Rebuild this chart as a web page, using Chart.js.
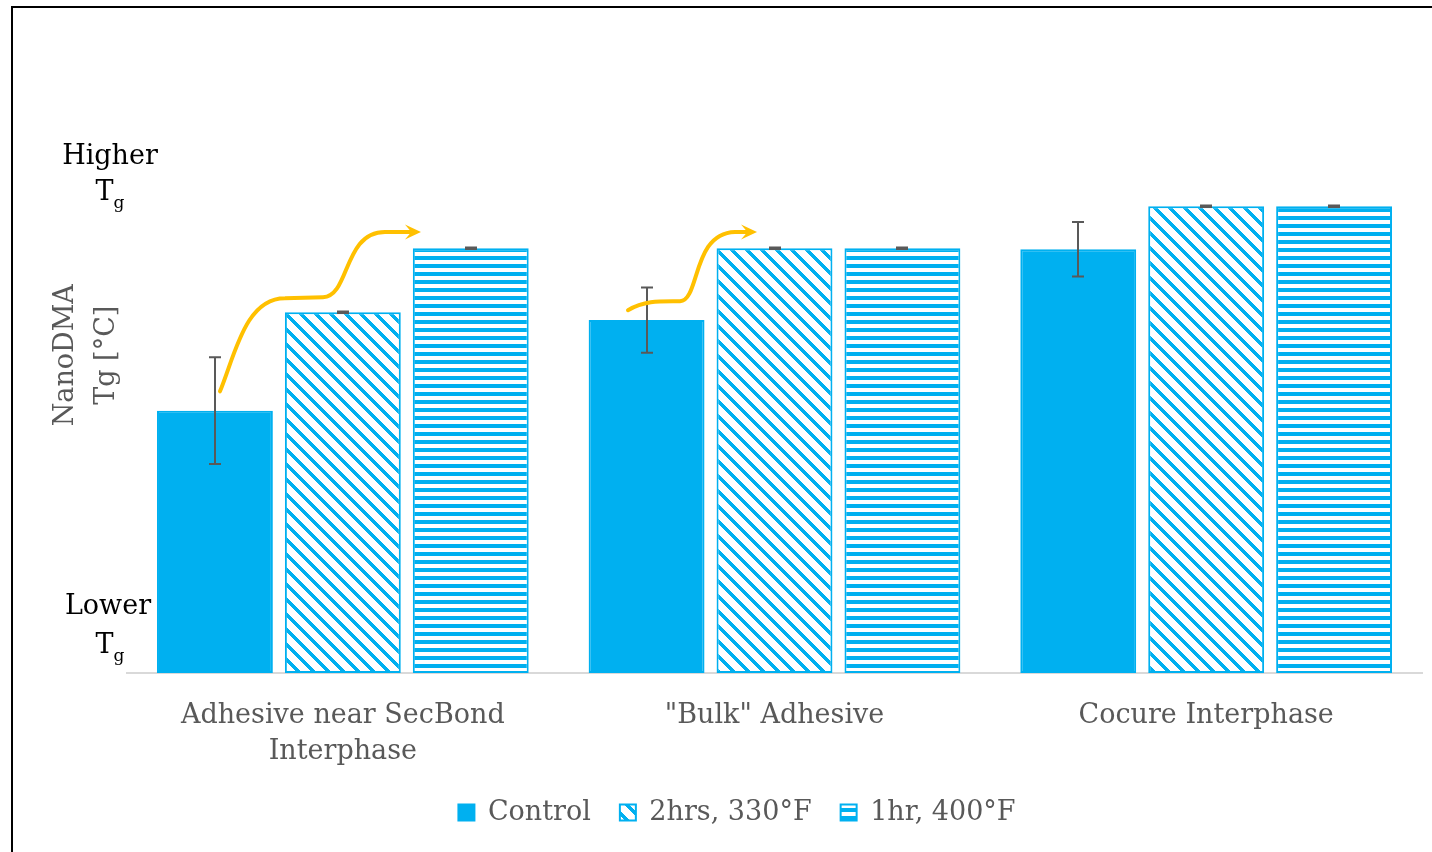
<!DOCTYPE html>
<html>
<head>
<meta charset="utf-8">
<title>NanoDMA Tg</title>
<script src="https://cdn.jsdelivr.net/npm/chart.js@4.4.0/dist/chart.umd.min.js"></script>
<style>
  html, body { margin: 0; padding: 0; background: #ffffff; }
  #wrap { position: relative; width: 1432px; height: 852px; }
</style>
</head>
<body>
<div id="wrap"><canvas id="c" width="1432" height="852"></canvas></div>
<script>
// ---- data ----
const categories = [["Adhesive near SecBond", "Interphase"], '"Bulk" Adhesive', "Cocure Interphase"];
const seriesNames = ["Control", "2hrs, 330°F", "1hr, 400°F"];
const controlTg  = [53.0, 71.3, 85.6];
const cure330Tg  = [72.9, 85.8, 94.3];
const cure400Tg  = [85.8, 85.8, 94.3];
const controlErr = [10.8, 6.6, 5.5];
const cure330Err = [0.15, 0.15, 0.15];
const cure400Err = [0.15, 0.15, 0.15];
const axisMin = 0;
const axisMax = 100;
const axisTitle = ["NanoDMA", "Tg [°C]"];
const axisEndWords = ["Higher", "Lower"];

// curved "shift" arrows, points as [category position, Tg value]
const shiftArrows = [
  [["M", [-0.2846, 56.9]],
   ["C", [-0.2498, 64.2], [-0.2266, 75.7], [-0.134, 75.7]],
   ["L", [-0.046, 75.9]],
   ["C", [0.0166, 76.1], [0.0004, 89.1], [0.0977, 89.1]],
   ["L", [0.181, 89.1]]],
  [["M", [0.6606, 73.3]],
   ["C", [0.700, 75.3], [0.7347, 75.1], [0.7811, 75.1]],
   ["C", [0.8274, 75.3], [0.8089, 88.9], [0.9085, 89.1]],
   ["L", [0.9595, 89.1]]]
];

// ---- styling ----
const BLUE = "#00B0F0";
const GREY_TEXT = "#595959";
const SERIF = '"DejaVu Serif", "Liberation Serif", serif';

const mainCtx = document.getElementById("c").getContext("2d");

function stripePattern(kind) {
  const size = kind === "diag" ? 15 : 8;
  const tile = document.createElement("canvas");
  tile.width = tile.height = size;
  const g = tile.getContext("2d");
  const img = g.createImageData(size, size);
  for (let y = 0; y < size; y++) {
    for (let x = 0; x < size; x++) {
      const blue = kind === "diag" ? ((x - y + size) % size) < 5 : y < 4;
      const k = (y * size + x) * 4;
      img.data[k]     = blue ? 0 : 255;
      img.data[k + 1] = blue ? 176 : 255;
      img.data[k + 2] = blue ? 240 : 255;
      img.data[k + 3] = 255;
    }
  }
  g.putImageData(img, 0, 0);
  return mainCtx.createPattern(tile, "repeat");
}

const diagFill = stripePattern("diag");
const horizFill = stripePattern("horiz");

// ---- plugins ----
const framePlugin = {
  id: "frame",
  beforeDraw(chart) {
    const ctx = chart.ctx;
    ctx.save();
    ctx.fillStyle = "#ffffff";
    ctx.fillRect(0, 0, chart.width, chart.height);
    ctx.strokeStyle = "#000000";
    ctx.lineWidth = 2;
    ctx.strokeRect(12, 7, chart.width + 40, chart.height + 40);
    ctx.restore();
  }
};

const errorBarPlugin = {
  id: "errorBars",
  afterDatasetsDraw(chart) {
    const ctx = chart.ctx;
    const yScale = chart.scales.y;
    ctx.save();
    ctx.strokeStyle = "#595959";
    ctx.lineWidth = 2;
    chart.data.datasets.forEach((ds, di) => {
      const meta = chart.getDatasetMeta(di);
      meta.data.forEach((bar, i) => {
        const v = ds.data[i], e = ds.errors[i];
        const yt = yScale.getPixelForValue(v + e);
        const yb = yScale.getPixelForValue(v - e);
        const x = Math.round(bar.x);
        ctx.beginPath();
        ctx.moveTo(x, yt); ctx.lineTo(x, yb);
        ctx.moveTo(x - 6, yt); ctx.lineTo(x + 6, yt);
        ctx.moveTo(x - 6, yb); ctx.lineTo(x + 6, yb);
        ctx.stroke();
      });
    });
    ctx.restore();
  }
};

const arrowPlugin = {
  id: "shiftArrows",
  afterDatasetsDraw(chart) {
    const ctx = chart.ctx;
    const xs = chart.scales.x, ys = chart.scales.y;
    const catW = xs.width / categories.length;
    const P = (p) => [xs.getPixelForValue(0) + p[0] * catW, ys.getPixelForValue(p[1])];
    ctx.save();
    ctx.strokeStyle = "#FFC000";
    ctx.fillStyle = "#FFC000";
    ctx.lineWidth = 4;
    ctx.lineCap = "round";
    ctx.lineJoin = "round";
    shiftArrows.forEach(path => {
      const headLen = 16, headHalf = 7.5;
      let last = null, prev = null;
      ctx.beginPath();
      path.forEach((seg, si) => {
        const pts = seg.slice(1).map(P);
        let end = pts[pts.length - 1];
        if (si === path.length - 1) {
          const from = pts.length > 1 ? pts[pts.length - 2] : last;
          const dx = end[0] - from[0], dy = end[1] - from[1];
          const d = Math.hypot(dx, dy);
          prev = [end[0] - dx / d, end[1] - dy / d];
          end = [end[0] - dx / d * headLen * 0.6, end[1] - dy / d * headLen * 0.6];
          pts[pts.length - 1] = end;
        }
        if (seg[0] === "M") ctx.moveTo(...pts[0]);
        else if (seg[0] === "L") ctx.lineTo(...pts[0]);
        else ctx.bezierCurveTo(...pts[0], ...pts[1], ...pts[2]);
        last = seg.slice(1).map(P).pop();
      });
      ctx.stroke();
      // arrowhead
      const tip = last;
      const dx = tip[0] - prev[0], dy = tip[1] - prev[1];
      const d = Math.hypot(dx, dy);
      const ux = dx / d, uy = dy / d;
      ctx.beginPath();
      ctx.moveTo(tip[0], tip[1]);
      ctx.lineTo(tip[0] - ux * headLen - uy * headHalf, tip[1] - uy * headLen + ux * headHalf);
      ctx.lineTo(tip[0] - ux * headLen * 0.6, tip[1] - uy * headLen * 0.6);
      ctx.lineTo(tip[0] - ux * headLen + uy * headHalf, tip[1] - uy * headLen - ux * headHalf);
      ctx.closePath();
      ctx.fill();
    });
    ctx.restore();
  }
};

function drawTg(ctx, cx, baseline) {
  ctx.font = "27px " + SERIF;
  const wT = ctx.measureText("T").width;
  ctx.font = "17px " + SERIF;
  const wg = ctx.measureText("g").width;
  const x0 = cx - (wT + wg) / 2;
  ctx.textAlign = "left";
  ctx.textBaseline = "alphabetic";
  ctx.font = "27px " + SERIF;
  ctx.fillText("T", x0, baseline);
  ctx.font = "17px " + SERIF;
  ctx.fillText("g", x0 + wT, baseline + 8);
}

const yAxisTextPlugin = {
  id: "yAxisText",
  afterDraw(chart) {
    const ctx = chart.ctx;
    const ys = chart.scales.y;
    const area = chart.chartArea;
    ctx.save();
    // end-of-axis words
    ctx.fillStyle = "#000000";
    ctx.textAlign = "center";
    ctx.textBaseline = "alphabetic";
    const yTop = ys.getPixelForValue(axisMax);
    const yBot = ys.getPixelForValue(axisMin);
    ctx.font = "27px " + SERIF;
    ctx.fillText(axisEndWords[0], 110, yTop - 14);
    drawTg(ctx, 110, yTop + 22);
    ctx.font = "27px " + SERIF;
    ctx.textAlign = "center";
    ctx.fillText(axisEndWords[1], 108, yBot - 59);
    drawTg(ctx, 110, yBot - 20);
    // rotated axis title
    ctx.fillStyle = GREY_TEXT;
    ctx.font = "27px " + SERIF;
    ctx.textAlign = "center";
    ctx.textBaseline = "middle";
    const cy = area.top + 0.358 * (area.bottom - area.top);
    ctx.translate(0, cy);
    ctx.rotate(-Math.PI / 2);
    ctx.fillText(axisTitle[0], 0, 66);
    ctx.fillText(axisTitle[1], 0, 107);
    ctx.restore();
  }
};

// ---- chart ----
new Chart(mainCtx, {
  type: "bar",
  data: {
    labels: categories,
    datasets: [
      { label: seriesNames[0], data: controlTg, errors: controlErr,
        backgroundColor: BLUE, borderColor: BLUE, borderWidth: 2, borderSkipped: false },
      { label: seriesNames[1], data: cure330Tg, errors: cure330Err,
        backgroundColor: diagFill, borderColor: BLUE, borderWidth: 2, borderSkipped: false },
      { label: seriesNames[2], data: cure400Tg, errors: cure400Err,
        backgroundColor: horizFill, borderColor: BLUE, borderWidth: 2, borderSkipped: false }
    ]
  },
  options: {
    responsive: false,
    animation: false,
    devicePixelRatio: 1,
    categoryPercentage: 0.889,
    barPercentage: 0.906,
    layout: { padding: { top: 178, left: 52, right: 10, bottom: 16 } },
    scales: {
      x: {
        grid: { display: false },
        border: { display: true, color: "#D9D9D9", width: 2 },
        ticks: {
          color: GREY_TEXT,
          font: { family: SERIF, size: 27, lineHeight: 1.333 },
          padding: 17,
          maxRotation: 0,
          autoSkip: false
        },
        afterFit(scale) { scale.height = scale.height - 17; }
      },
      y: {
        display: true,
        min: axisMin,
        max: axisMax,
        grid: { display: false },
        border: { display: false },
        ticks: { display: false },
        afterFit(scale) { scale.width = 75; }
      }
    },
    plugins: {
      legend: {
        position: "bottom",
        labels: {
          color: GREY_TEXT,
          font: { family: SERIF, size: 27 },
          boxWidth: 16,
          boxHeight: 16,
          padding: 29
        }
      },
      tooltip: { enabled: false }
    }
  },
  plugins: [framePlugin, errorBarPlugin, arrowPlugin, yAxisTextPlugin]
});
</script>
</body>
</html>
